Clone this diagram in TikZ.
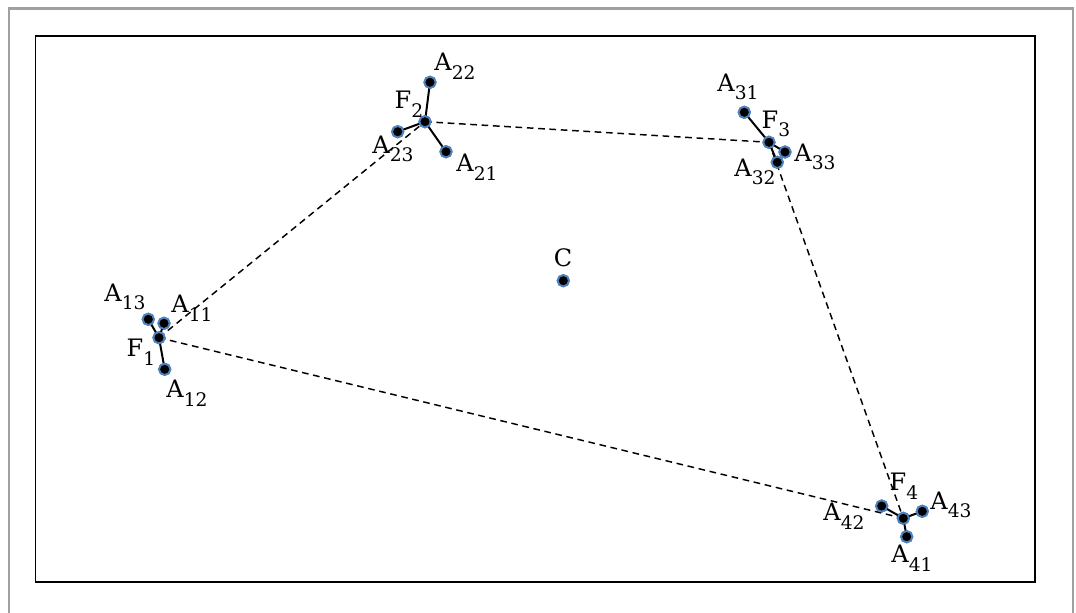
\documentclass[tikz,border=0pt]{standalone}
\usepackage{fontspec}
\setmainfont{DejaVu Serif}
\definecolor{ringblue}{RGB}{79,129,189}
\definecolor{framegray}{RGB}{160,160,160}
\newcommand\Lab[2]{#1\raisebox{-6.5pt}{\fontsize{14}{15}\selectfont #2}}
\tikzset{
  dot/.style={circle,fill=black,draw=ringblue,line width=1.4pt,minimum size=8.5pt,inner sep=0pt},
  spoke/.style={black,line width=1.5pt},
  link/.style={black,line width=1.1pt,dash pattern=on 5pt off 3.5pt},
  lab/.style={inner sep=0pt,anchor=center,font=\fontsize{18}{21}\selectfont}
}
\begin{document}
\begin{tikzpicture}[x=0.75pt,y=-0.75pt]
\useasboundingbox (0,0) rectangle (1076,612);
\draw[framegray,line width=1.6pt] (9,640) -- (9,8.5) -- (1073,8.5) -- (1073,640);
\draw[black,line width=1.2pt] (35.5,36) rectangle (1035,582);

% points
\node[dot] (F1) at (159,337.7) {};
\node[dot] (A11) at (164,323.3) {};
\node[dot] (A12) at (164.7,369.3) {};
\node[dot] (A13) at (148.3,319.3) {};

\node[dot] (F2) at (425,121.7) {};
\node[dot] (A21) at (446,151.7) {};
\node[dot] (A22) at (430,82.3) {};
\node[dot] (A23) at (397.7,131.7) {};

\node[dot] (F3) at (769,142.3) {};
\node[dot] (A31) at (744.3,112.3) {};
\node[dot] (A32) at (777.3,162.3) {};
\node[dot] (A33) at (785,152) {};

\node[dot] (F4) at (903.3,518.3) {};
\node[dot] (A41) at (906.7,536.7) {};
\node[dot] (A42) at (881.7,506) {};
\node[dot] (A43) at (922.3,511.3) {};

\node[dot] (C) at (563.3,280.7) {};

% connectors
\draw[link] (F1.center) -- (F2.center);
\draw[link] (F2.center) -- (F3.center);
\draw[link] (F3.center) -- (F4.center);
\draw[link] (F4.center) -- (F1.center);
\foreach \f/\a in {F1/A11,F1/A12,F1/A13,F2/A21,F2/A22,F2/A23,F3/A31,F3/A32,F3/A33,F4/A41,F4/A42,F4/A43}
  \draw[spoke] (\f.center) -- (\a.center);
% dots drawn again on top of the lines
\foreach \n in {F1,A11,A12,A13,F2,A21,A22,A23,F3,A31,A32,A33,F4,A41,A42,A43,C}
  \node[dot] at (\n.center) {};

% labels
\node[lab] (lA13) at (125,297) {\Lab{A}{13}};
\node[lab] (lA11) at (192,308) {\Lab{A}{11}};
\node[lab] (lF1) at (141,352) {\Lab{F}{1}};
\node[lab] (lA12) at (187,393) {\Lab{A}{12}};

\node[lab] (lA22) at (455,66) {\Lab{A}{22}};
\node[lab] (lF2) at (409,104) {\Lab{F}{2}};
\node[lab] (lA23) at (393,149) {\Lab{A}{23}};
\node[lab] (lA21) at (477,167) {\Lab{A}{21}};

\node[lab] (lA31) at (738,87) {\Lab{A}{31}};
\node[lab] (lF3) at (776,124) {\Lab{F}{3}};
\node[lab] (lA33) at (815,157) {\Lab{A}{33}};
\node[lab] (lA32) at (755,172) {\Lab{A}{32}};

\node[lab] (lF4) at (904,486) {\Lab{F}{4}};
\node[lab] (lA43) at (951,505) {\Lab{A}{43}};
\node[lab] (lA41) at (912,558) {\Lab{A}{41}};
\node[lab] (lA42) at (844,516) {\Lab{A}{42}};

\node[lab] (lC) at (563,258) {C};
\end{tikzpicture}
\end{document}
